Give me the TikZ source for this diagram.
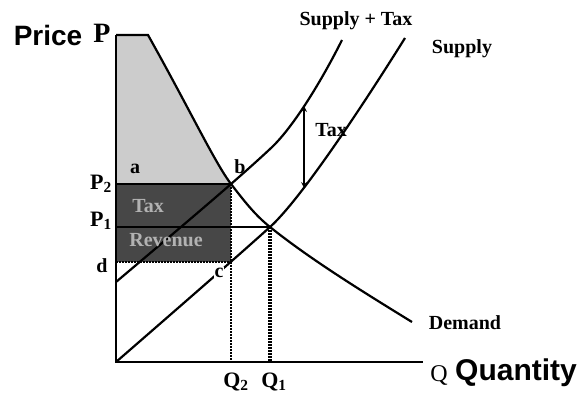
\documentclass[tikz,border=0pt]{standalone}
\usepackage{fontspec}
\setmainfont{Liberation Serif}
\setsansfont{Liberation Sans}
\begin{document}
\begin{tikzpicture}[x=1pt,y=-1pt,>=stealth,
  curve/.style={line width=2.2pt},
  axis/.style={line width=2.8pt},
  guide/.style={line width=2.6pt,dash pattern=on 1.6pt off 1.4pt},
  lab/.style={font=\bfseries\fontsize{20}{20}\selectfont},
  big/.style={font=\bfseries\fontsize{22}{22}\selectfont},
  head/.style={font=\sffamily\bfseries\fontsize{28}{28}\selectfont}]
  \useasboundingbox (0,0) rectangle (577,399);
  % key points of the market
  \coordinate (O) at (116,362);
  \coordinate (T) at (116,35);
  \coordinate (X) at (423,362);
  \coordinate (b) at (231,184);
  \coordinate (c) at (231,262);
  \coordinate (d) at (116,262);
  \coordinate (e) at (270,227);
  \coordinate (p2) at (116,184);
  \coordinate (p1) at (116,227);
  \coordinate (st) at (116,282);
  \coordinate (tt) at (304,106);
  \coordinate (tb) at (304,188);
  % consumer surplus
  \begin{scope}
    \clip (T) rectangle (b);
    \fill[gray!40] (T) -- (148,35) .. controls (190,110) and (215,163) .. (b) -- (O) -- cycle;
  \end{scope}
  % tax revenue
  \fill[black!72] (p2) rectangle (c);
  \draw[line width=1.2pt] (p2) -- (b);
  \draw[guide,line width=1.6pt] (d) -- (c);
  \draw[curve] (p1) -- (e);
  % dotted guides
  \draw[guide] (b) -- (b |- O);
  \draw[guide,line width=3.6pt] (e) -- (e |- O);
  % curves
  \draw[curve] (T) -- (148,35) .. controls (190,110) and (215,163) .. (b)
    .. controls (245,202) and (255,215) .. (e)
    .. controls (310,259) and (360,290) .. (412,322);
  \draw[curve] (O) .. controls (200,289) and (240,254) .. (e)
    .. controls (300,200) and (360,110) .. (405,38);
  \draw[curve] (st) .. controls (200,211) and (240,177) .. (270,149)
    .. controls (293,128) and (322,80) .. (342,40);
  \draw[<->,line width=1.6pt] (tt) -- (tb);
  % axes
  \draw[axis] (T) -- (O) -- (X);
  % labels
  \node[head] at (48,35) (price) {Price};
  \node[font=\bfseries\fontsize{28}{28}\selectfont] at (102,33) (pp) {P};
  \node[head,font=\sffamily\bfseries\fontsize{30}{30}\selectfont] at (516,373) (quant) {Quantity};
  \node[font=\fontsize{24}{24}\selectfont] at (439,375) (qq) {Q};
  \node[lab] at (356,21) (lst) {Supply + Tax};
  \node[lab] at (462,49) (ls) {Supply};
  \node[lab] at (465,323) (ld) {Demand};
  \node[lab] at (331,130) (ltax) {Tax};
  \node[lab,text=black!30] at (148,206) (lrev1) {Tax};
  \node[lab,text=black!30] at (166,240) (lrev2) {Revenue};
  \node[lab] at (135,169) (la) {a};
  \node[lab] at (240,167) (lb) {b};
  \node[lab,fill=white,inner sep=1pt] at (219,273) (lc) {c};
  \node[lab] at (102,266) (ld2) {d};
  \node[big] at (101,184) (lp2) {P\textsubscript{2}};
  \node[big] at (101,221) (lp1) {P\textsubscript{1}};
  \node[big] at (236,382) (lq2) {Q\textsubscript{2}};
  \node[big] at (274,382) (lq1) {Q\textsubscript{1}};
\end{tikzpicture}
\end{document}
